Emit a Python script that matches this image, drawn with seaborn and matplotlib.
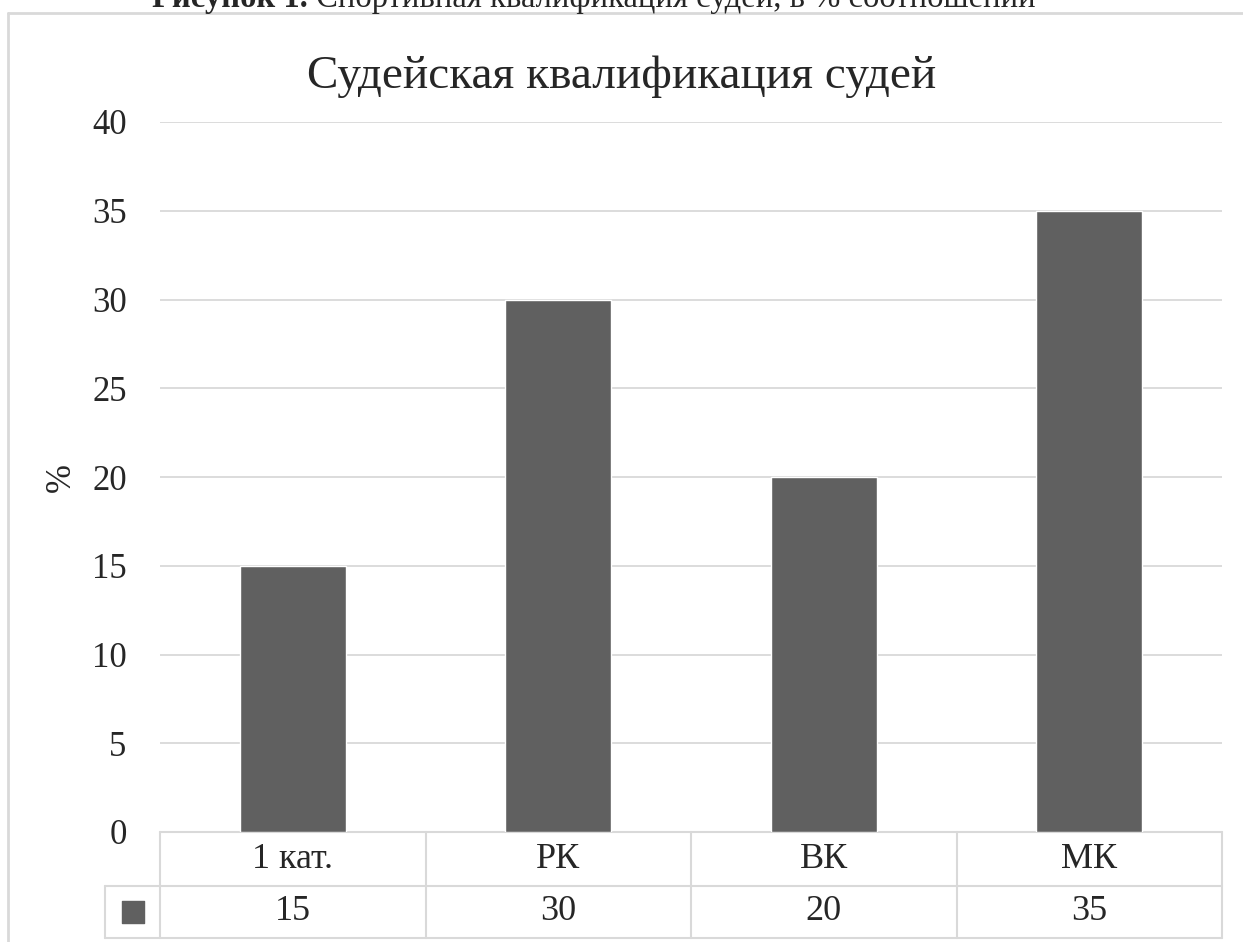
import matplotlib
matplotlib.use("Agg")
import matplotlib.pyplot as plt
import matplotlib.transforms as mtransforms
import seaborn as sns
import pandas as pd

categories = ["1 кат.", "РК", "ВК", "МК"]
values = [15, 30, 20, 35]
title = "Судейская квалификация судей"
caption_bold = "Рисунок 1."
caption_rest = " Спортивная квалификация судей, в % соотношении"

bar_color = "#606060"
line_color = "#d9d9d9"

sns.set_style("white")
plt.rcParams["font.family"] = ["Liberation Serif", "DejaVu Serif"]

df = pd.DataFrame({"cat": categories, "val": values})

W, H = 1243, 942
fig = plt.figure(figsize=(W / 100, H / 100), dpi=100)
ax = fig.add_axes([160 / W, (H - 832) / H, 1062 / W, 710 / H])

sns.barplot(data=df, x="cat", y="val", color=bar_color, width=0.4,
            saturation=1, ax=ax, zorder=3)

ax.set_ylim(0, 40)
ax.set_xlim(-0.5, len(categories) - 0.5)
ax.set_yticks(range(0, 41, 5))
ax.yaxis.grid(True, color=line_color, linewidth=1.3, zorder=0)
ax.tick_params(axis="y", length=0, labelsize=25, pad=24)
ax.set_xticks([])
ax.set_xlabel("")
ax.set_ylabel("%", fontsize=25)
ax.yaxis.set_label_coords(-82 / 1062, 0.5)
for s in ax.spines.values():
    s.set_visible(False)

# data table under the axis
row1 = 54 / 710
row2 = 106 / 710
leg_left = -55 / 1062
tr = mtransforms.blended_transform_factory(ax.transData, ax.transAxes)
lk = dict(color=line_color, linewidth=1.5, clip_on=False)
ax.plot([-0.5, len(categories) - 0.5], [0, 0], transform=tr, **lk)
ax.plot([leg_left, 1], [-row1, -row1], transform=ax.transAxes, **lk)
ax.plot([leg_left, 1], [-row2, -row2], transform=ax.transAxes, **lk)
ax.plot([leg_left, leg_left], [-row1, -row2], transform=ax.transAxes, **lk)
for i in range(len(categories) + 1):
    ax.plot([i - 0.5, i - 0.5], [0, -row2], transform=tr, **lk)
for i, (c, v) in enumerate(zip(categories, values)):
    ax.text(i, -row1 / 2, c, transform=tr, ha="center", va="center", fontsize=26)
    ax.text(i, -(row1 + row2) / 2, str(v), transform=tr, ha="center",
            va="center", fontsize=26)
ax.scatter([leg_left / 2], [-(row1 + row2) / 2], marker="s", s=260,
           color=bar_color, transform=ax.transAxes, clip_on=False)

fig.text(622 / W, 1 - 88 / H, title, ha="center", va="baseline", fontsize=34)

# chart frame (bottom and right edges fall outside the picture)
fig.add_artist(plt.Line2D([8 / W, 8 / W], [0, 1 - 13 / H], color=line_color,
                          linewidth=2, transform=fig.transFigure))
fig.add_artist(plt.Line2D([8 / W, 1], [1 - 13 / H, 1 - 13 / H],
                          color=line_color, linewidth=2, transform=fig.transFigure))

# caption, partly cut off at the top as in the source
fig.text(308 / W, 1 - 7 / H, caption_bold, ha="right", va="baseline",
         fontsize=23.5, fontweight="bold")
fig.text(308 / W, 1 - 7 / H, caption_rest, ha="left", va="baseline", fontsize=23.5)

fig.savefig("out.png", dpi=100)
